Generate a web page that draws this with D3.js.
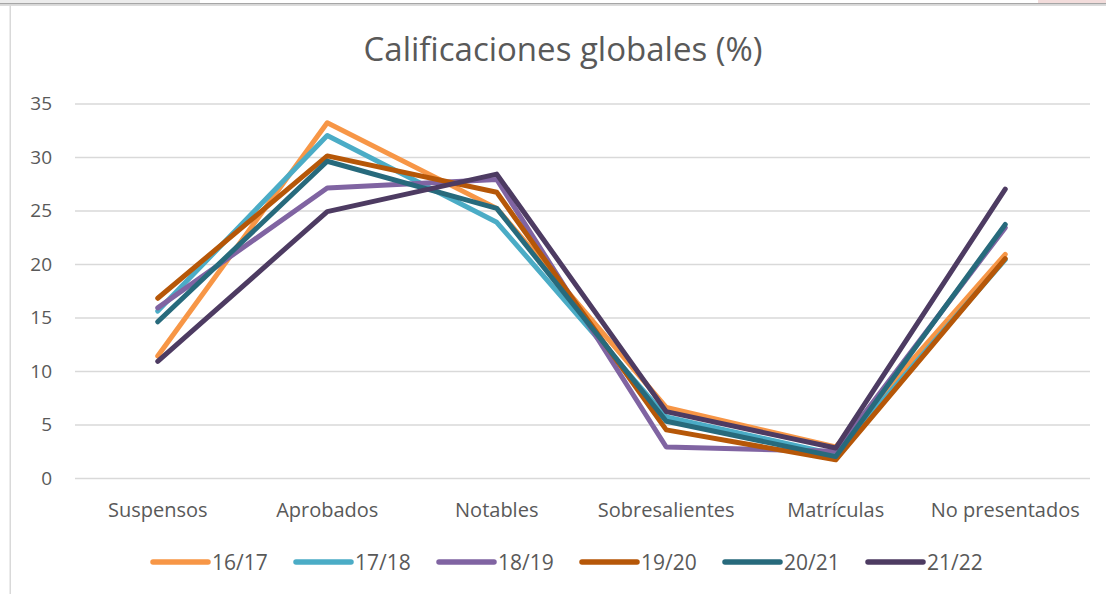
<!DOCTYPE html>
<meta charset="utf-8">
<script src="https://d3js.org/d3.v7.min.js"></script>
<style>
  body { margin: 0; background: #fff; }
  text { font-family: "Open Sans", sans-serif; fill: #595959; }
</style>
<div id="chart"></div>
<script>
// categories and series
const categories = ["Suspensos", "Aprobados", "Notables", "Sobresalientes", "Matrículas", "No presentados"];
const seriesNames = ["16/17", "17/18", "18/19", "19/20", "20/21", "21/22"];
const seriesColors = ["#F79646", "#4BACC6", "#8064A2", "#B65708", "#276A7C", "#4D3B62"];
const v1617 = [11.4, 33.2, 25.2, 6.6, 2.9, 20.9];
const v1718 = [15.6, 32.0, 23.9, 5.7, 2.2, 20.4];
const v1819 = [15.9, 27.1, 27.9, 2.9, 2.5, 23.4];
const v1920 = [16.8, 30.1, 26.7, 4.5, 1.7, 20.5];
const v2021 = [14.6, 29.6, 25.2, 5.3, 2.0, 23.7];
const v2122 = [10.9, 24.9, 28.4, 6.2, 2.8, 27.0];
const yTicks = [0, 5, 10, 15, 20, 25, 30, 35];

const allValues = [v1617, v1718, v1819, v1920, v2021, v2122];
const series = seriesNames.map((n, i) => ({name: n, color: seriesColors[i], values: allValues[i]}));

const W = 1106, H = 594;
const svg = d3.select("#chart").append("svg")
    .attr("width", W)
    .attr("height", H);

// window frame bits along the top and left
svg.append("rect").attr("x", 0).attr("y", 0).attr("width", 200).attr("height", 4).attr("fill", "#ececec");
svg.append("rect").attr("x", 1038).attr("y", 0).attr("width", 68).attr("height", 4).attr("fill", "#f2dcdb");
svg.append("rect").attr("x", 0).attr("y", 3).attr("width", W).attr("height", 1.5).attr("fill", "#a6a6a6");
svg.append("rect").attr("x", 0).attr("y", 4.5).attr("width", W).attr("height", 1.5).attr("fill", "#dcdcdc");
svg.append("rect").attr("x", 9.5).attr("y", 5).attr("width", 1.5).attr("height", H).attr("fill", "#d9d9d9");

const x = d3.scaleBand()
    .domain(categories)
    .range([73, 1090]);

const y = d3.scaleLinear()
    .domain([0, 35])
    .range([478, 103.5]);

// gridlines + y labels
const yAxis = svg.append("g")
    .attr("transform", "translate(75,0)")
    .call(d3.axisLeft(y).tickValues(yTicks).tickSize(-(1090 - 75)).tickPadding(23));
yAxis.select(".domain").remove();
yAxis.selectAll(".tick line").attr("stroke", "#d9d9d9").attr("stroke-width", 1.5);
yAxis.selectAll(".tick text")
    .attr("font-size", "19px")
    .style("font-family", "'Open Sans', sans-serif")
    .attr("fill", "#595959");

// x labels
svg.append("g")
    .selectAll("text")
    .data(categories)
    .join("text")
    .attr("x", d => x(d) + x.bandwidth() / 2)
    .attr("y", 517)
    .attr("text-anchor", "middle")
    .attr("font-size", "20px")
    .text(d => d);

// title
svg.append("text")
    .attr("x", 563)
    .attr("y", 61)
    .attr("text-anchor", "middle")
    .attr("font-size", "33px")
    .text("Calificaciones globales (%)");

// lines
const line = d3.line()
    .x((d, i) => x(categories[i]) + x.bandwidth() / 2)
    .y(d => y(d));

svg.append("g")
    .selectAll("path")
    .data(series)
    .join("path")
    .attr("d", d => line(d.values))
    .attr("fill", "none")
    .attr("stroke", d => d.color)
    .attr("stroke-width", 5)
    .attr("stroke-linecap", "round")
    .attr("stroke-linejoin", "round");

// legend
const legend = svg.append("g")
    .selectAll("g")
    .data(series)
    .join("g")
    .attr("transform", (d, i) => `translate(${153 + i * 143}, 562)`);

legend.append("line")
    .attr("x1", 0).attr("x2", 55)
    .attr("y1", 0).attr("y2", 0)
    .attr("stroke", d => d.color)
    .attr("stroke-width", 5.5)
    .attr("stroke-linecap", "round");

legend.append("text")
    .attr("x", 59)
    .attr("y", 8)
    .attr("font-size", "21px")
    .text(d => d.name);
</script>
